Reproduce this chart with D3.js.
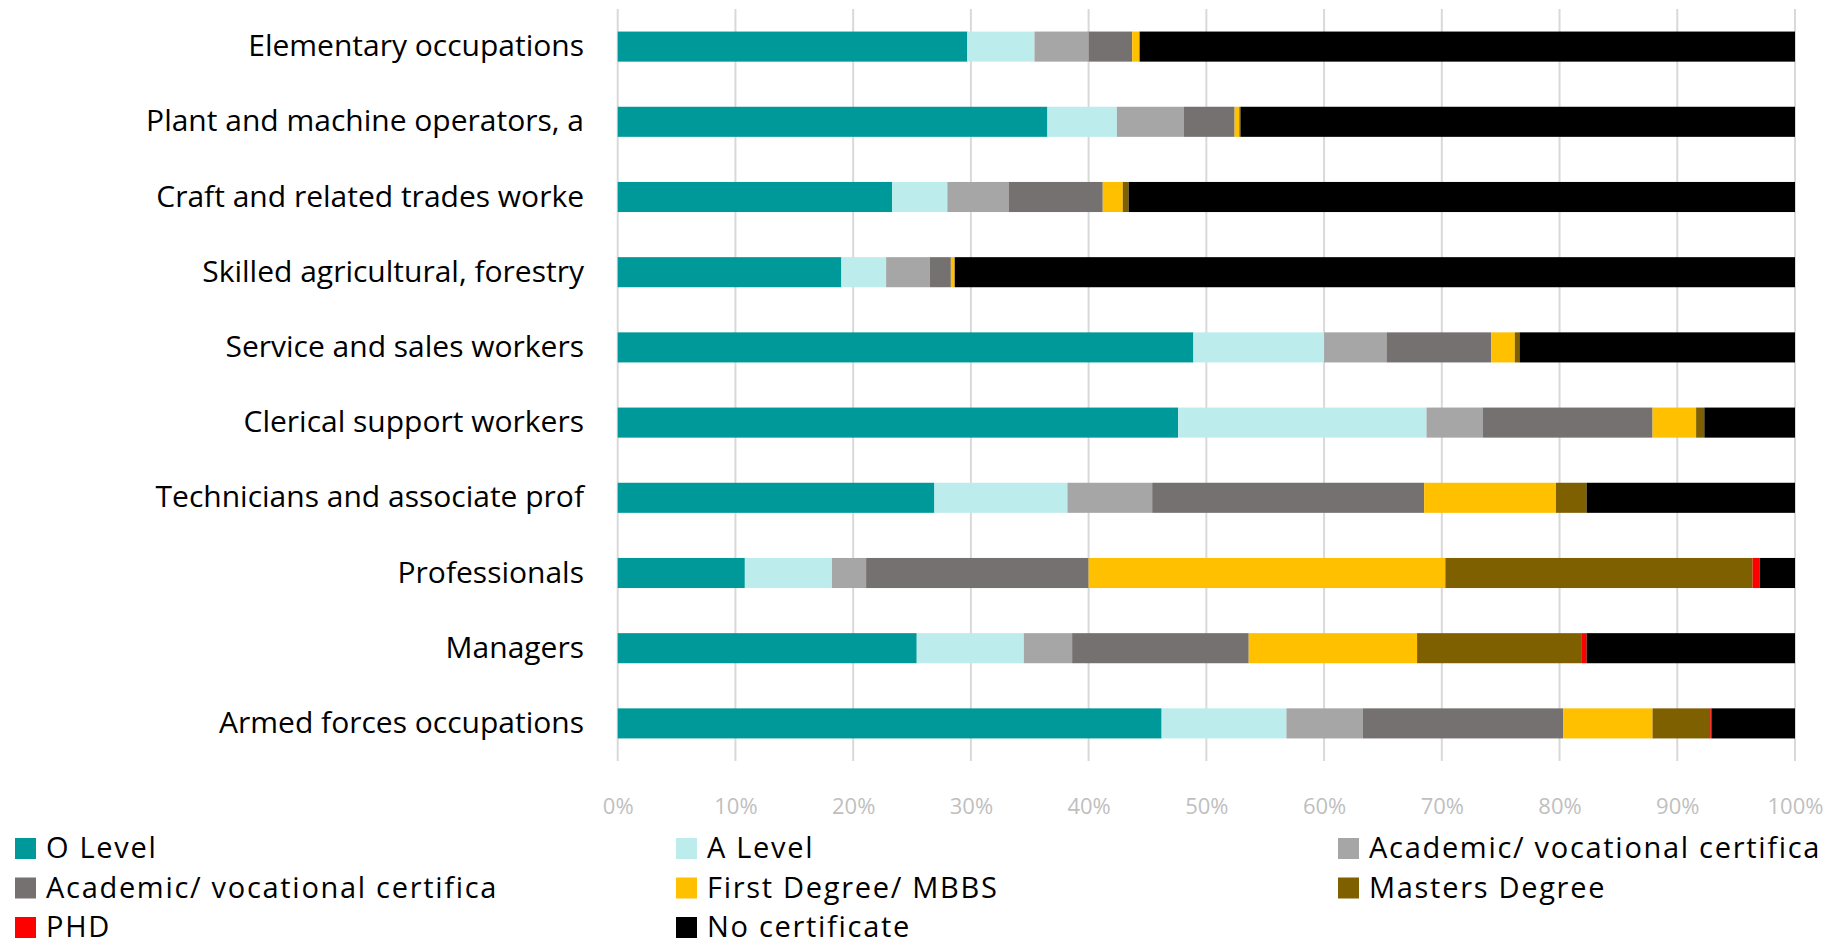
<!DOCTYPE html>
<html>
<head>
<meta charset="utf-8">
<script src="https://cdn.jsdelivr.net/npm/d3@7"></script>
<style>
  html, body { margin: 0; padding: 0; background: #ffffff; }
  svg { display: block; }
  text { font-family: "Open Sans", Lato, sans-serif; }
</style>
</head>
<body>
<svg id="chart" width="1831" height="946"></svg>
<script>
// Occupation groups, top to bottom
const categories = [
  "Elementary occupations",
  "Plant and machine operators, a",
  "Craft and related trades worke",
  "Skilled agricultural, forestry",
  "Service and sales workers",
  "Clerical support workers",
  "Technicians and associate prof",
  "Professionals",
  "Managers",
  "Armed forces occupations"
];

// Highest qualification held (stack order, left to right)
const seriesNames = [
  "O Level",
  "A Level",
  "Academic/ vocational certifica",
  "Academic/ vocational certifica",
  "First Degree/ MBBS",
  "Masters Degree",
  "PHD",
  "No certificate"
];

// Share (%) per series, one value per category in the order above
const oLevel     = [29.7, 36.5, 23.3, 19.0, 48.9, 47.6, 26.9, 10.8, 25.4, 46.2];
const aLevel     = [ 5.7,  5.9,  4.7,  3.8, 11.1, 21.1, 11.3,  7.4,  9.1, 10.6];
const academic1  = [ 4.6,  5.7,  5.2,  3.7,  5.3,  4.8,  7.2,  2.9,  4.1,  6.5];
const academic2  = [ 3.7,  4.3,  8.0,  1.8,  8.9, 14.4, 23.1, 18.9, 15.0, 17.0];
const firstDeg   = [ 0.6,  0.4,  1.7,  0.3,  2.0,  3.7, 11.2, 30.3, 14.3,  7.6];
const masters    = [0.05,  0.1,  0.5, 0.05,  0.4,  0.7,  2.6, 26.1, 14.0,  4.9];
const phd        = [ 0.0,  0.0,  0.0,  0.0,  0.0,  0.0,  0.0,  0.6,  0.4,  0.1];
const noCert     = [55.65, 47.1, 56.6, 71.35, 23.4, 7.7, 17.7,  3.0, 17.7,  7.1];

const xTicks = [0, 0.1, 0.2, 0.3, 0.4, 0.5, 0.6, 0.7, 0.8, 0.9, 1.0];

const seriesValues = [oLevel, aLevel, academic1, academic2, firstDeg, masters, phd, noCert];
const colors = ["#009999", "#bdeced", "#a6a6a6", "#767171", "#ffc000", "#7f6000", "#ff0000", "#000000"];

// Rows for d3.stack: keys are series indices
const keys = seriesValues.map((_, i) => "s" + i);
const rows = categories.map((c, j) => {
  const r = { category: c };
  keys.forEach((k, i) => { r[k] = seriesValues[i][j]; });
  return r;
});

const stacked = d3.stack().keys(keys).offset(d3.stackOffsetExpand)(rows);

const svg = d3.select("#chart");

const plotLeft = 617.7, plotRight = 1795, plotTop = 9, plotBottom = 761;

const x = d3.scaleLinear().domain([0, 1]).range([plotLeft, plotRight]);
const y = d3.scaleBand().domain(categories).range([plotTop, plotBottom])
  .paddingInner(0.6).paddingOuter(0.3);

// Vertical gridlines
svg.append("g")
  .selectAll("line")
  .data(xTicks)
  .join("line")
  .attr("x1", d => x(d)).attr("x2", d => x(d))
  .attr("y1", plotTop).attr("y2", plotBottom)
  .attr("stroke", "#d9d9d9")
  .attr("stroke-width", 2);

// Percentage axis labels
const xAxis = d3.axisBottom(x).tickValues(xTicks).tickFormat(d3.format(".0%")).tickSize(0).tickPadding(0);
const gx = svg.append("g").attr("transform", `translate(0, ${plotBottom + 37})`).call(xAxis);
gx.select(".domain").remove();
gx.selectAll("text")
  .attr("fill", "#bfbfbf")
  .attr("font-size", 22)
  .attr("font-family", "'Open Sans', Lato, sans-serif");

// Stacked bars
svg.append("g")
  .selectAll("g")
  .data(stacked)
  .join("g")
  .attr("fill", (d, i) => colors[i])
  .selectAll("rect")
  .data(d => d)
  .join("rect")
  .attr("x", d => x(d[0]))
  .attr("width", d => Math.max(0, x(d[1]) - x(d[0])))
  .attr("y", d => y(d.data.category))
  .attr("height", y.bandwidth());

// Category labels
const yAxis = d3.axisLeft(y).tickSize(0).tickPadding(0);
const gy = svg.append("g").attr("transform", `translate(584, 0)`).call(yAxis);
gy.select(".domain").remove();
gy.selectAll("text")
  .attr("fill", "#000000")
  .attr("font-size", 30)
  .attr("font-family", "'Open Sans', Lato, sans-serif");

// Legend: three columns, baselines per row
const legendX = [15, 676, 1338];
const legendBase = [858, 897.5, 937];
const legend = svg.append("g");
seriesNames.forEach((name, i) => {
  const col = i % 3, row = Math.floor(i / 3);
  const g = legend.append("g").attr("transform", `translate(${legendX[col]}, ${legendBase[row]})`);
  g.append("rect").attr("x", 0).attr("y", -20).attr("width", 21).attr("height", 21).attr("fill", colors[i]);
  g.append("text").attr("x", 31).attr("y", 0)
    .attr("font-size", 29).attr("letter-spacing", 1.7)
    .attr("fill", "#000000").text(name);
});
</script>
</body>
</html>
